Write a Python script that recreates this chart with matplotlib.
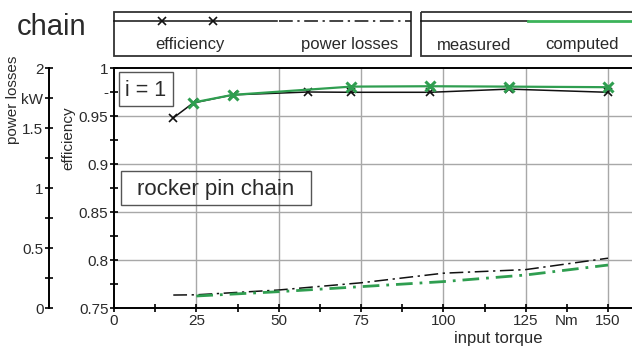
import numpy as np
import matplotlib
matplotlib.use("Agg")
import matplotlib.pyplot as plt
from matplotlib.patches import Rectangle
from matplotlib.lines import Line2D

plt.rcParams['font.family'] = ['Liberation Sans', 'DejaVu Sans']

# efficiency, measured / computed
eff_meas_x = [18, 24, 36, 59, 72, 96, 120, 150]
eff_meas_y = [0.948, 0.9635, 0.972, 0.975, 0.9747, 0.9747, 0.978, 0.9747]
eff_comp_x = [24, 36, 72, 96, 120, 150]
eff_comp_y = [0.964, 0.972, 0.9806, 0.981, 0.9806, 0.980]

# power losses in kW
loss_meas_x = [18, 25, 50, 75, 100, 125, 150]
loss_meas_y = [0.108, 0.11, 0.15, 0.21, 0.29, 0.32, 0.415]
loss_comp_x = [25, 50, 75, 100, 125, 150]
loss_comp_y = [0.10, 0.136, 0.178, 0.22, 0.275, 0.358]

x_ticks = np.arange(0, 151, 12.5)
x_labels = ['0', '', '25', '', '50', '', '75', '', '100', '', '125', 'Nm', '150']
eff_ticks = np.arange(0.75, 1.001, 0.025)
eff_labels = ['0.75', '', '0.8', '', '0.85', '', '0.9', '', '0.95', '-', '1']
loss_ticks = np.arange(0, 2.01, 0.25)
loss_labels = ['0', '', '0.5', '', '1', '', '1.5', 'kW', '2']

W, H = 632, 354
txt = '#2a2a2a'
green = '#2f9e50'
grid = '#a8a8a8'

fig = plt.figure(figsize=(W / 100, H / 100), dpi=100)
x0, x1, ytop, ybot = 114, 632, 68, 308
ax = fig.add_axes([x0 / W, (H - ybot) / H, (x1 - x0) / W, (ybot - ytop) / H])

ax.set_xlim(0, (x1 - x0) / ((608 - x0) / 150))
ax.set_ylim(0.75, 1.0)
ax.set_xticks(x_ticks)
ax.set_xticklabels(x_labels)
ax.set_yticks(eff_ticks)
ax.set_yticklabels(eff_labels)
ax.tick_params(direction='inout', length=6, width=1.2, labelsize=11,
               colors='black', labelcolor=txt, pad=1)
for v in [25, 50, 75, 100, 125, 150]:
    ax.axvline(v, color=grid, lw=1, zorder=0)
for v in [0.8, 0.85, 0.9, 0.95]:
    ax.axhline(v, color=grid, lw=1, zorder=0)
ax.spines['right'].set_visible(False)
for s in ['left', 'bottom', 'top']:
    ax.spines[s].set_linewidth(1.4)

ax.plot(eff_meas_x, eff_meas_y, color='#111111', lw=1.1, marker='x',
        ms=6, mew=1.2, zorder=3)
ax.plot(eff_comp_x, eff_comp_y, color=green, lw=1.6, marker='x',
        ms=7, mew=2.2, zorder=4)

ax2 = ax.twinx()
ax2.set_ylim(0, 2)
ax2.yaxis.tick_left()
ax2.spines['left'].set_position(('axes', (49 - x0) / (x1 - x0)))
ax2.spines['left'].set_visible(True)
ax2.spines['left'].set_linewidth(1.4)
for s in ['right', 'top', 'bottom']:
    ax2.spines[s].set_visible(False)
ax2.set_yticks(loss_ticks)
ax2.set_yticklabels(loss_labels)
ax2.tick_params(direction='inout', length=6, width=1.2, labelsize=11,
                colors='black', labelcolor=txt, pad=1)

ax2.plot(loss_meas_x, loss_meas_y, color='#111111', lw=1.1,
         linestyle=(0, (9, 3, 1.5, 3)))
ax2.plot(loss_comp_x, loss_comp_y, color=green, lw=2.0,
         linestyle=(0, (6, 2.5, 1, 2.5)))

# overlay in pixel coordinates for the texts and legend boxes
ov = fig.add_axes([0, 0, 1, 1], zorder=5)
ov.set_xlim(0, W)
ov.set_ylim(H, 0)
ov.axis('off')

ov.text(17, 35, 'chain', fontsize=21, color=txt, va='baseline')
ov.text(13, 100, 'power losses', rotation=90, fontsize=11, color=txt,
        ha='center', va='center')
ov.text(68, 138, 'efficiency', rotation=90, fontsize=11, color=txt,
        ha='center', va='center')
ov.text(498, 339, 'input torque', fontsize=12, color=txt,
        ha='center', va='center')

ov.add_patch(Rectangle((119, 72), 54, 34, fill=False, ec='#555555', lw=1))
ov.text(146, 90, 'i = 1', fontsize=15.5, color=txt, ha='center', va='center')
ov.add_patch(Rectangle((121, 171), 190, 34, fill=False, ec='#555555', lw=1))
ov.text(216, 189, 'rocker pin chain', fontsize=16, color=txt,
        ha='center', va='center')

# legend box 1
ov.add_patch(Rectangle((114, 12), 297, 44, fill=False, ec='#333333', lw=1.3))
ov.add_line(Line2D([114, 277], [21, 21], color='#111111', lw=1.1))
ov.add_line(Line2D([162, 213], [21, 21], color='#111111', lw=0, marker='x',
                   ms=6, mew=1.2))
ov.add_line(Line2D([279, 411], [21, 21], color='#111111', lw=1.1,
                   linestyle=(0, (9, 3, 1.5, 3))))
ov.text(190, 45, 'efficiency', fontsize=12, color=txt, ha='center',
        va='center')
ov.text(350, 45, 'power losses', fontsize=12, color=txt, ha='center',
        va='center')

# legend box 2
ov.add_patch(Rectangle((421, 12), 240, 44, fill=False, ec='#333333', lw=1.3))
ov.add_line(Line2D([421, 528], [21, 21], color='#111111', lw=1.1))
ov.add_line(Line2D([528, 632], [21, 21], color='#3cb35a', lw=2))
ov.text(474, 45, 'measured', fontsize=12, color=txt, ha='center', va='center')
ov.text(582, 45, 'computed', fontsize=12, color=txt, ha='center', va='center')

fig.savefig('out.png', dpi=100)
